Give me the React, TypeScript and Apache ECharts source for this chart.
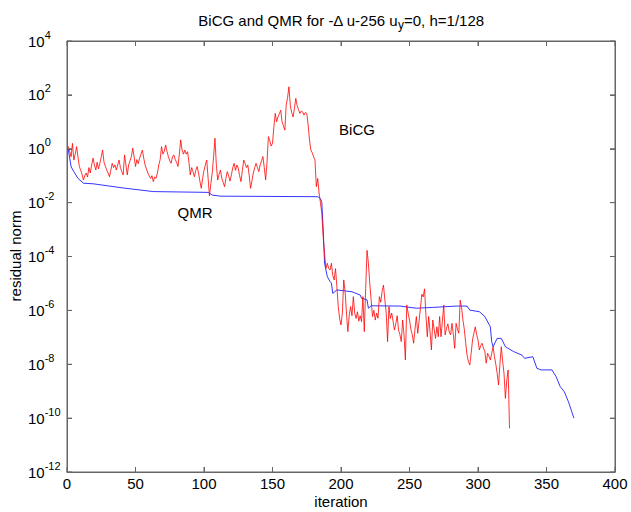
import React, { useEffect, useRef } from "react";
import * as echarts from "echarts";

// Chart texts
const titleMain = "BiCG and QMR for -\u0394 u-256 u";
const titleSub = "y";
const titleTail = "=0, h=1/128";
const xAxisName = "iteration";
const yAxisName = "residual norm";
const bicgLabel = "BiCG";
const qmrLabel = "QMR";

// Axis ranges and ticks
const xMin = 0;
const xMax = 400;
const xStep = 50;
const yMin = 1e-12;
const yMax = 1e4;
const xTickValues = [0, 50, 100, 150, 200, 250, 300, 350, 400];
const yTickValues = [1e-12, 1e-10, 1e-8, 1e-6, 1e-4, 1e-2, 1e0, 1e2, 1e4];

// BiCG residuals: [iteration, log10(residual norm)]
const bicgPoints: [number, number][] = [
  [0, 0.05], [1, 0.08], [2, -0.1], [3, -0.3], [4, 0.2], [5, -0.42], [6, -0.2], [7, 0.08], [8, -0.3], [9, -0.66],
  [10, -0.8], [11, -0.95], [12, -1.16], [13, -1.0], [14, -0.9], [15, -1.05], [16, -0.7], [17, -0.9], [18, -0.6],
  [19, -0.35], [20, -0.6], [21, -0.79], [22, -0.5], [23, -0.75], [24, -0.54], [25, -0.3], [26, -0.05], [27, -0.5],
  [28, -0.65], [29, -0.79], [30, -0.9], [31, -1.04], [32, -0.8], [33, -0.54], [34, -0.7], [35, -0.6], [36, -0.79],
  [37, -0.6], [38, -0.42], [39, -0.7], [40, -0.85], [41, -0.97], [42, -0.23], [43, -0.6], [44, -0.97], [45, -0.6],
  [46, -0.45], [47, -0.29], [48, 0.02], [49, -0.3], [50, -0.66], [51, -0.4], [52, -0.55], [53, -0.35], [54, -0.2],
  [55, -0.05], [56, -0.35], [57, -0.6], [58, -0.75], [59, -0.9], [60, -1.0], [61, -1.1], [62, -1.0], [63, -1.22],
  [64, -1.05], [65, -1.1], [66, -0.9], [67, -0.6], [68, -0.4], [69, 0.08], [70, -0.2], [71, -0.1], [72, 0.14],
  [73, -0.1], [74, -0.29], [75, -0.45], [76, -0.54], [77, -0.3], [78, -0.23], [79, -0.4], [80, -0.5], [81, -0.66],
  [82, -0.2], [83, 0.33], [84, -0.05], [85, -0.2], [86, -0.05], [87, -0.2], [88, -0.11], [89, -0.5], [90, -0.97],
  [91, -0.7], [92, -0.85], [93, -1.04], [94, -0.8], [95, -0.66], [96, -0.9], [97, -1.2], [98, -1.47], [99, -1.1],
  [100, -0.8], [101, -0.6], [102, -0.42], [103, -1.1], [104, -1.75], [105, -1.3], [106, -0.9], [107, -0.3],
  [108, 0.39], [109, -0.6], [110, -1.16], [111, -0.95], [112, -0.79], [113, -1.1], [114, -1.25], [115, -1.41],
  [116, -1.1], [117, -0.85], [118, -1.0], [119, -1.2], [120, -0.97], [121, -0.7], [122, -0.54], [123, -0.8],
  [124, -0.6], [125, -0.72], [126, -1.0], [127, -1.22], [128, -0.8], [129, -0.42], [130, -0.55], [131, -0.7],
  [132, -0.6], [133, -1.0], [134, -1.47], [135, -1.2], [136, -0.9], [137, -0.7], [138, -0.54], [139, -0.7],
  [140, -0.85], [141, -0.6], [142, -0.45], [143, -0.29], [144, -0.7], [145, -1.16], [146, -0.5], [147, 0.45],
  [148, 0.3], [149, 0.1], [150, 0.2], [151, 0.8], [152, 1.31], [153, 1.0], [154, 1.18], [155, 1.3], [156, 1.43],
  [157, 1.0], [158, 0.85], [159, 0.69], [160, 1.62], [161, 1.9], [162, 2.3], [163, 1.6], [164, 1.35], [165, 1.18],
  [166, 1.5], [167, 1.87], [168, 1.6], [169, 1.45], [170, 1.31], [171, 1.4], [172, 1.37], [173, 1.25], [174, 1.35],
  [175, 1.31], [176, 0.9], [177, 0.33], [178, -0.05], [179, -0.15], [180, -0.3], [181, -0.42], [182, -1.41],
  [183, -1.1], [184, -1.65], [185, -2.0], [186, -2.4], [187, -3.26], [188, -3.9], [189, -4.44], [190, -4.25],
  [191, -4.44], [192, -4.5], [193, -4.25], [194, -4.7], [195, -4.87], [196, -4.45], [197, -5.12], [198, -5.86],
  [199, -6.3], [200, -6.54], [201, -6.1], [202, -4.87], [203, -5.3], [204, -6.1], [205, -6.79], [206, -6.2],
  [207, -5.86], [208, -6.2], [209, -5.49], [210, -6.1], [211, -6.3], [212, -6.05], [213, -6.4], [214, -6.2],
  [215, -6.42], [216, -5.49], [217, -6.79], [218, -5.2], [219, -3.77], [220, -4.25], [221, -5.0], [222, -5.61],
  [223, -6.23], [224, -6.0], [225, -6.36], [226, -6.1], [227, -6.29], [228, -5.49], [229, -5.7], [230, -5.3],
  [231, -5.06], [232, -5.6], [233, -6.1], [234, -7.16], [235, -5.86], [236, -6.3], [237, -6.1], [238, -6.4],
  [239, -6.73], [240, -6.5], [241, -6.2], [242, -6.73], [243, -6.9], [244, -7.16], [245, -6.36], [246, -6.9],
  [247, -7.84], [248, -5.8], [249, -6.1], [250, -6.36], [251, -6.7], [252, -6.9], [253, -7.22], [254, -6.7],
  [255, -6.23], [256, -6.85], [257, -6.4], [258, -5.9], [259, -5.4], [260, -5.5], [261, -5.2], [262, -6.2],
  [263, -6.98], [264, -6.23], [265, -6.8], [266, -7.47], [267, -6.36], [268, -6.7], [269, -7.04], [270, -6.61],
  [271, -6.98], [272, -6.23], [273, -6.98], [274, -6.4], [275, -5.8], [276, -6.91], [277, -6.67], [278, -6.5],
  [279, -6.8], [280, -6.91], [281, -6.48], [282, -6.9], [283, -7.41], [284, -6.48], [285, -6.7], [286, -6.85],
  [287, -5.62], [288, -5.9], [289, -6.36], [290, -6.7], [291, -7.2], [292, -7.66], [293, -7.9], [294, -8.03],
  [295, -7.6], [296, -7.1], [297, -6.85], [298, -6.61], [299, -6.9], [300, -7.1], [301, -7.47], [302, -7.3],
  [303, -7.22], [304, -7.4], [305, -7.53], [306, -7.96], [307, -7.59], [308, -7.7], [309, -7.84], [310, -7.6],
  [311, -7.35], [312, -7.72], [313, -8.0], [314, -8.34], [315, -8.77], [316, -8.0], [317, -7.35], [318, -7.9],
  [319, -8.34], [320, -9.27], [321, -8.6], [322, -8.21], [323, -10.38],
];

// QMR residuals: [iteration, log10(residual norm)]
const qmrPoints: [number, number][] = [
  [0, 0.0], [1, -0.05], [3, -0.67], [5, -0.85], [8, -1.1], [12, -1.28], [19, -1.3], [40, -1.45], [63, -1.59],
  [103, -1.62], [106, -1.72], [112, -1.76], [183, -1.78], [185, -1.85], [186, -2.0], [187, -3.02], [188, -4.25],
  [190, -4.75], [192, -4.93], [193, -4.99], [194, -5.37], [197, -5.24], [208, -5.31], [214, -5.43], [215, -5.55],
  [219, -5.61], [220, -5.92], [222, -5.83], [243, -5.84], [255, -5.92], [267, -5.89], [284, -5.84], [292, -5.84],
  [294, -5.99], [301, -6.05], [305, -6.23], [309, -6.61], [310, -7.16], [311, -7.35], [314, -7.04], [317, -7.04],
  [320, -7.35], [326, -7.53], [332, -7.66], [334, -7.78], [340, -7.72], [343, -8.15], [346, -8.21], [354, -8.21],
  [357, -8.46], [360, -8.83], [363, -9.02], [366, -9.39], [370, -10.0],
];

const FONT = "Liberation Sans, Arial, sans-serif";
const AXIS_COLOR = "#666666";

export default function App() {
  const ref = useRef<HTMLDivElement>(null);

  useEffect(() => {
    if (!ref.current) return;
    const chart = echarts.init(ref.current, undefined, { renderer: "svg" });

    const toData = (pts: [number, number][]) => pts.map(([i, l]) => [i, Math.pow(10, l)]);

    const grid = { left: 67, top: 41, width: 548, height: 431 };

    const yLabelFmt = (v: number) => {
      const e = Math.round(Math.log10(v));
      return "{b|10}{s|" + e + "}";
    };

    const tickStyle = () => ({ show: true, inside: true, length: 5, lineStyle: { color: AXIS_COLOR, width: 1 } });
    const lineStyle = () => ({ show: true, onZero: false, lineStyle: { color: AXIS_COLOR, width: 1 } });
    const textStyle = { fontSize: 15, fontFamily: FONT, fill: "#000" };

    chart.setOption({
      animation: false,
      backgroundColor: "#ffffff",
      grid,
      xAxis: [
        {
          type: "value",
          min: xMin,
          max: xMax,
          interval: xStep,
          position: "bottom",
          axisLine: lineStyle(),
          axisTick: tickStyle(),
          splitLine: { show: false },
          axisLabel: { color: "#000", fontSize: 15, fontFamily: FONT, margin: 4 },
        },
        {
          type: "value",
          min: xMin,
          max: xMax,
          interval: xStep,
          position: "top",
          axisLine: lineStyle(),
          axisTick: tickStyle(),
          splitLine: { show: false },
          axisLabel: { show: false },
        },
      ],
      yAxis: [
        {
          type: "log",
          logBase: 10,
          min: yMin,
          max: yMax,
          interval: 2,
          position: "left",
          axisLine: lineStyle(),
          axisTick: tickStyle(),
          minorTick: { show: false },
          splitLine: { show: false },
          axisLabel: {
            formatter: yLabelFmt,
            align: "left",
            margin: 39,
            rich: {
              b: { fontSize: 15, fontFamily: FONT, color: "#000" },
              s: { fontSize: 11, fontFamily: FONT, color: "#000", padding: [0, 0, 13, 0] },
            },
          },
        },
        {
          type: "log",
          logBase: 10,
          min: yMin,
          max: yMax,
          interval: 2,
          position: "right",
          axisLine: lineStyle(),
          axisTick: tickStyle(),
          minorTick: { show: false },
          splitLine: { show: false },
          axisLabel: { show: false },
        },
      ],
      series: [
        {
          name: qmrLabel,
          type: "line",
          data: toData(qmrPoints),
          showSymbol: false,
          symbol: "none",
          lineStyle: { color: "#0000ff", width: 0.8 },
          z: 2,
        },
        {
          name: bicgLabel,
          type: "line",
          data: toData(bicgPoints),
          showSymbol: false,
          symbol: "none",
          lineStyle: { color: "#ff0000", width: 0.8 },
          z: 3,
        },
      ],
    });

    // Frame and ticks placed through the chart's own axis scales
    const px = (v: number) => chart.convertToPixel({ xAxisIndex: 0 }, v) as number;
    const py = (v: number) => chart.convertToPixel({ yAxisIndex: 0 }, v) as number;
    const xl = px(xMin);
    const xr = px(xMax);
    const yb = py(yMin);
    const yt = py(yMax);
    const stroke = { stroke: AXIS_COLOR, lineWidth: 1 };
    const T = 5;

    const frameEls: any[] = [];
    if (isFinite(xl) && isFinite(xr) && isFinite(yb) && isFinite(yt)) {
      frameEls.push({
        type: "rect",
        z: 100,
        silent: true,
        shape: { x: xl, y: yt, width: xr - xl, height: yb - yt },
        style: { fill: "none", ...stroke },
      });
      xTickValues.forEach((v) => {
        const x = px(v);
        frameEls.push({ type: "line", z: 100, silent: true, shape: { x1: x, y1: yb, x2: x, y2: yb - T }, style: stroke });
        frameEls.push({ type: "line", z: 100, silent: true, shape: { x1: x, y1: yt, x2: x, y2: yt + T }, style: stroke });
      });
      yTickValues.forEach((v) => {
        const y = py(v);
        frameEls.push({ type: "line", z: 100, silent: true, shape: { x1: xl, y1: y, x2: xl + T, y2: y }, style: stroke });
        frameEls.push({ type: "line", z: 100, silent: true, shape: { x1: xr, y1: y, x2: xr - T, y2: y }, style: stroke });
      });
    }

    chart.setOption({
      graphic: [
        ...frameEls,
        {
          type: "text",
          x: 341,
          y: 20,
          style: {
            text: "{t|" + titleMain + "}{s|" + titleSub + "}{t|" + titleTail + "}",
            align: "center",
            verticalAlign: "middle",
            rich: {
              t: { fontSize: 15, fontFamily: FONT, fill: "#000" },
              s: { fontSize: 12, fontFamily: FONT, fill: "#000", padding: [9, 0, 0, 0] },
            },
          },
        },
        {
          type: "text",
          x: 341,
          y: 501,
          style: { text: xAxisName, align: "center", verticalAlign: "middle", ...textStyle },
        },
        {
          type: "text",
          x: 15,
          y: 256,
          rotation: Math.PI / 2,
          style: { text: yAxisName, align: "center", verticalAlign: "middle", ...textStyle },
        },
        {
          type: "text",
          x: 357,
          y: 129,
          style: { text: bicgLabel, align: "center", verticalAlign: "middle", ...textStyle },
        },
        {
          type: "text",
          x: 195,
          y: 212,
          style: { text: qmrLabel, align: "center", verticalAlign: "middle", ...textStyle },
        },
      ],
    });

    return () => chart.dispose();
  }, []);

  return (
    <div
      ref={ref}
      style={{ position: "fixed", left: 0, top: 0, width: 631, height: 512, background: "#fff" }}
    />
  );
}
